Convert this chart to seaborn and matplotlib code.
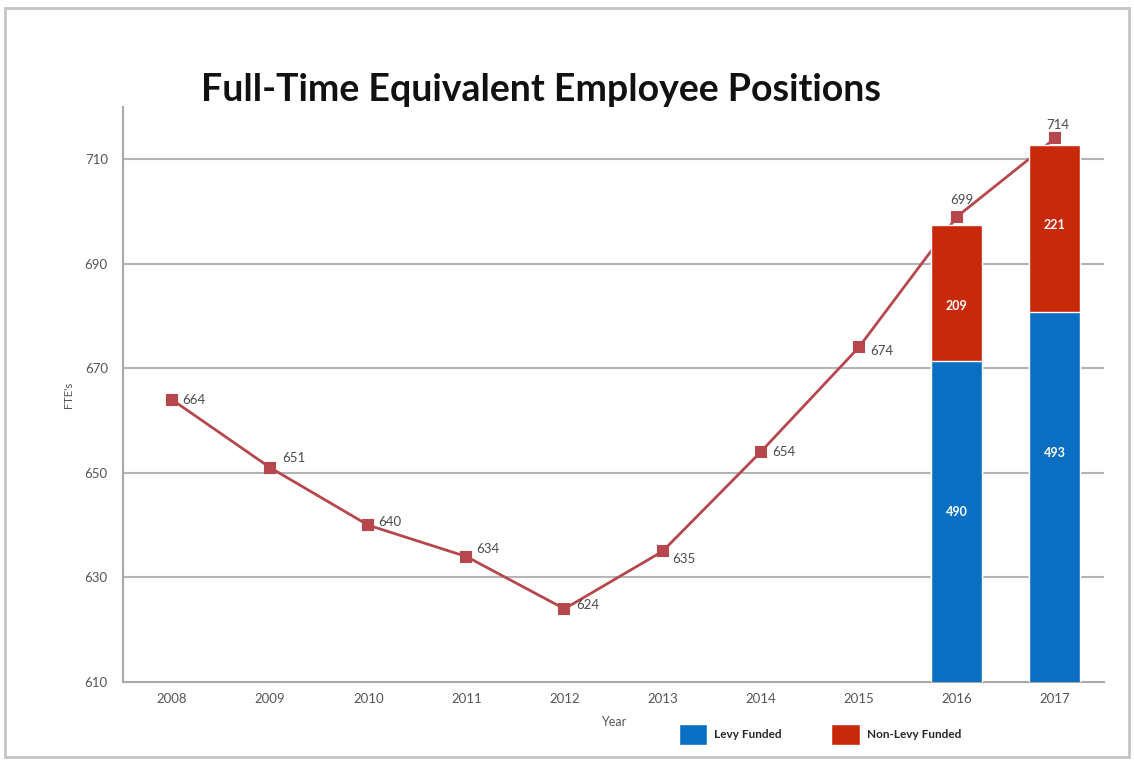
import matplotlib
matplotlib.use('Agg')
import matplotlib.pyplot as plt
from matplotlib.patches import Patch, Rectangle
import pandas as pd
import seaborn as sns

# Data
years = ['2008', '2009', '2010', '2011', '2012', '2013', '2014', '2015', '2016', '2017']
fte = [664, 651, 640, 634, 624, 635, 654, 674, 699, 714]

bar_years = ['2016', '2017']
levy = [490, 493]
non_levy = [209, 221]
# visual tops of the stacked segments as drawn in the picture
levy_top = [671.5, 680.7]
total_top = [697.5, 712.7]

# where the white segment labels sit (y, data units)
levy_label_y = [642.6, 653.9]
non_levy_label_y = [682.0, 697.4]

# label offsets (pixels) for the line values
label_dx = [10, 12, 10, 10, 12, 10, 12, 12, 5, 3]
label_dy = [0, 10, 3, 8, 4, -8, 0, -4, 17, 13]
label_ha = ['left'] * 8 + ['center', 'center']

sns.set_style('white')
plt.rcParams['font.family'] = ['Lato', 'DejaVu Sans']

line_df = pd.DataFrame({'year': years, 'fte': fte})
bar_df = pd.DataFrame({'year': bar_years, 'levy_top': levy_top, 'total_top': total_top})

fig = plt.figure(figsize=(11.34, 7.61), dpi=100)
ax = fig.add_axes([0.1085, 0.1038, 0.865, 0.7556])

grid_c = '#b4b4b4'
for v in [630, 650, 670, 690, 710]:
    ax.axhline(v, color=grid_c, lw=1.5, zorder=0)

sns.pointplot(data=line_df, x='year', y='fte', order=years, color='#b5474d',
              markers='s', markersize=6.5, linewidth=2, ax=ax, zorder=2)

sns.barplot(data=bar_df, x='year', y='total_top', order=years, color='#c8290a',
            saturation=1, width=0.52, ax=ax, zorder=3)
sns.barplot(data=bar_df, x='year', y='levy_top', order=years, color='#0a6fc2',
            saturation=1, width=0.52, ax=ax, zorder=4)

for i, v in enumerate(fte):
    ax.annotate(str(v), (i, v), xytext=(label_dx[i], label_dy[i]),
                textcoords='offset pixels', ha=label_ha[i], va='center',
                fontsize=9.5, color='#4a4a4a', zorder=6)

for j, yr in enumerate(bar_years):
    i = years.index(yr)
    ax.text(i, levy_label_y[j], str(levy[j]), ha='center', va='center',
            color='white', fontsize=9, fontweight='bold', zorder=6)
    ax.text(i, non_levy_label_y[j], str(non_levy[j]), ha='center',
            va='center', color='white', fontsize=9, fontweight='bold', zorder=6)

ax.set_xlim(-0.5, 9.5)
ax.set_ylim(610, 720)
ax.set_yticks([610, 630, 650, 670, 690, 710])
ax.set_xticks(range(len(years)))
ax.set_xticklabels(years)
ax.set_xticks([x + 0.5 for x in range(len(years))], minor=True)

for s in ['top', 'right']:
    ax.spines[s].set_visible(False)
for s in ['left', 'bottom']:
    ax.spines[s].set_color('#a8a8a8')
    ax.spines[s].set_linewidth(1.5)

ax.tick_params(axis='y', length=5, width=1, color='#a8a8a8', labelsize=9.5,
               labelcolor='#555555', pad=6)
ax.tick_params(axis='x', which='major', length=0, labelsize=9.5,
               labelcolor='#555555', pad=8)
ax.tick_params(axis='x', which='minor', length=4, width=1, color='#a8a8a8')

ax.set_xlabel('Year', fontsize=9, color='#555555', labelpad=8)
ax.set_ylabel("FTE's", fontsize=8, color='#555555', labelpad=8)

fig.text(0.477, 0.882, 'Full-Time Equivalent Employee Positions', ha='center',
         va='center', fontsize=27, fontweight='bold', color='#111111')

handles = [Patch(facecolor='#0a6fc2', label='Levy Funded'),
           Patch(facecolor='#c8290a', label='Non-Levy Funded')]
fig.legend(handles=handles, loc='center left', bbox_to_anchor=(0.589, 0.035),
           ncol=2, frameon=False, handlelength=2.4, handleheight=2.4,
           columnspacing=4.2, handletextpad=0.6,
           prop={'weight': 'bold', 'size': 8.5})

fig.patches.append(Rectangle((0.004, 0.005), 0.992, 0.985, transform=fig.transFigure,
                             fill=False, edgecolor='#c4c4c4', lw=2))

fig.savefig('out.png', dpi=100)
